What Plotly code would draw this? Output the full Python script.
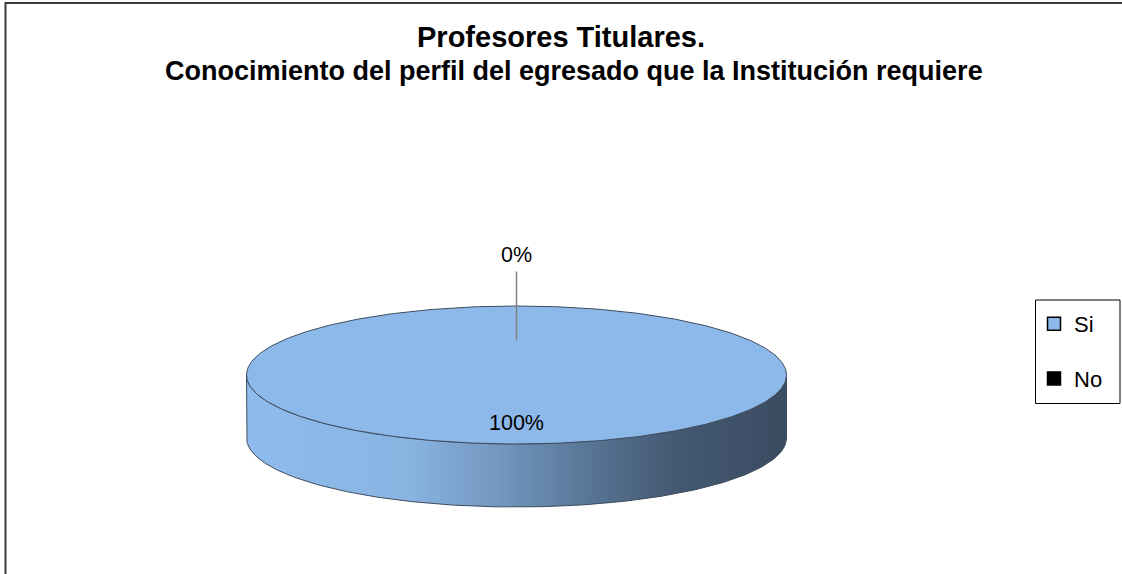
import numpy as np
import plotly.graph_objects as go

# ---- data ----
categories = ["Si", "No"]
values = [100, 0]
slice_colors = ["#8DB9EA", "#000000"]

title_text = "Profesores Titulares."
subtitle_text = "Conocimiento del perfil del egresado que la Institución requiere"

# ---- layout constants (pixel space) ----
W, H = 1122, 574
CX, CY = 516.5, 375.0     # centre of the top face
RX, RY = 270.0, 69.0      # ellipse radii
DEPTH = 63.0              # thickness of the pie
FONT = "Liberation Sans, Arial, sans-serif"
EDGE = "#3E4D5E"

side_scale = [[0.0, "#8EBBEB"], [0.3, "#89B4E2"], [0.46, "#7498C1"],
              [0.62, "#5A7899"], [0.8, "#435871"], [1.0, "#3A4C62"]]


def ell(theta, dy=0.0, r=1.0):
    return CX + r * RX * np.sin(theta), CY + dy - r * RY * np.cos(theta)


total = float(sum(values))
fracs = [v / total for v in values]
starts = np.cumsum([0] + fracs[:-1]) * 2 * np.pi
ends = np.cumsum(fracs) * 2 * np.pi

fig = go.Figure()

# side walls (visible front half only: theta in [pi/2, 3pi/2])
for cat, a, b in zip(categories, starts, ends):
    lo, hi = max(a, np.pi / 2), min(b, 3 * np.pi / 2)
    if hi <= lo:
        continue
    t = np.linspace(lo, hi, 200)
    xt, yt = ell(t)
    xb, yb = ell(t[::-1], dy=DEPTH)
    xs = np.concatenate([xt, xb, xt[:1]])
    ys = np.concatenate([yt, yb, yt[:1]])
    fig.add_trace(go.Scatter(
        x=xs, y=ys, mode="lines", fill="toself",
        fillgradient=dict(type="horizontal", colorscale=side_scale),
        line=dict(color=EDGE, width=1), hoverinfo="skip", showlegend=False))

# top faces
for cat, a, b, f, col in zip(categories, starts, ends, fracs, slice_colors):
    if f <= 0:
        continue
    t = np.linspace(a, b, 400)
    xs, ys = ell(t)
    if f < 1:
        xs = np.concatenate([[CX], xs, [CX]])
        ys = np.concatenate([[CY], ys, [CY]])
    fig.add_trace(go.Scatter(
        x=xs, y=ys, mode="lines", fill="toself", fillcolor=col,
        line=dict(color=EDGE, width=1), hoverinfo="skip", showlegend=False))

# data labels
annotations = []
for cat, a, b, f in zip(categories, starts, ends, fracs):
    mid = (a + b) / 2
    label = f"{round(f * 100)}%"
    if f < 0.05:
        lx0, ly0 = ell(mid, r=0.5)
        lx1, ly1 = ell(mid, r=1.5)
        fig.add_trace(go.Scatter(x=[lx0, lx1], y=[ly0, ly1], mode="lines",
                                 line=dict(color="#808080", width=1.5),
                                 hoverinfo="skip", showlegend=False))
        tx, ty = ell(mid, r=1.74)
    else:
        tx, ty = ell(mid, r=0.7)
    annotations.append(dict(x=tx, y=ty, xref="x", yref="y", text=label,
                            showarrow=False, font=dict(family=FONT, size=21.5, color="#000")))

# legend entries
for i, (cat, col) in enumerate(zip(categories, slice_colors)):
    fig.add_trace(go.Scatter(
        x=[None], y=[None], mode="markers", name=cat, legendgroup=f"g{i}",
        marker=dict(symbol="square", size=13, color=col,
                    line=dict(color="#000000", width=1.5))))

annotations += [
    dict(x=561, y=37, xref="x", yref="y", text=f"<b>{title_text}</b>", showarrow=False,
         font=dict(family=FONT, size=29, color="#000")),
    dict(x=574, y=70.5, xref="x", yref="y", text=f"<b>{subtitle_text}</b>", showarrow=False,
         font=dict(family=FONT, size=27, color="#000")),
]

fig.update_layout(
    width=W, height=H, margin=dict(l=0, r=0, t=0, b=0),
    paper_bgcolor="white", plot_bgcolor="white",
    xaxis=dict(range=[0, W], visible=False, fixedrange=True),
    yaxis=dict(range=[H, 0], visible=False, fixedrange=True),
    showlegend=True,
    legend=dict(x=1034 / W, y=1 - 351.5 / H, xanchor="left", yanchor="middle",
                bgcolor="rgba(0,0,0,0)", borderwidth=0, traceorder="grouped",
                tracegroupgap=23, itemwidth=30,
                font=dict(family=FONT, size=22, color="#000")),
    annotations=annotations,
    shapes=[
        dict(type="rect", xref="x", yref="y", x0=1035.5, y0=300, x1=1120, y1=403.5,
             line=dict(color="#000", width=1), fillcolor="rgba(0,0,0,0)", layer="below"),
        dict(type="rect", xref="x", yref="y", x0=5.5, y0=3, x1=W + 20, y1=H + 20,
             line=dict(color="#3A3A3A", width=2), fillcolor="rgba(0,0,0,0)"),
    ],
)

fig.write_html(
    "out.html",
    config={"displayModeBar": False},
    post_script="document.body.style.margin='0';document.body.style.overflow='hidden';",
)
